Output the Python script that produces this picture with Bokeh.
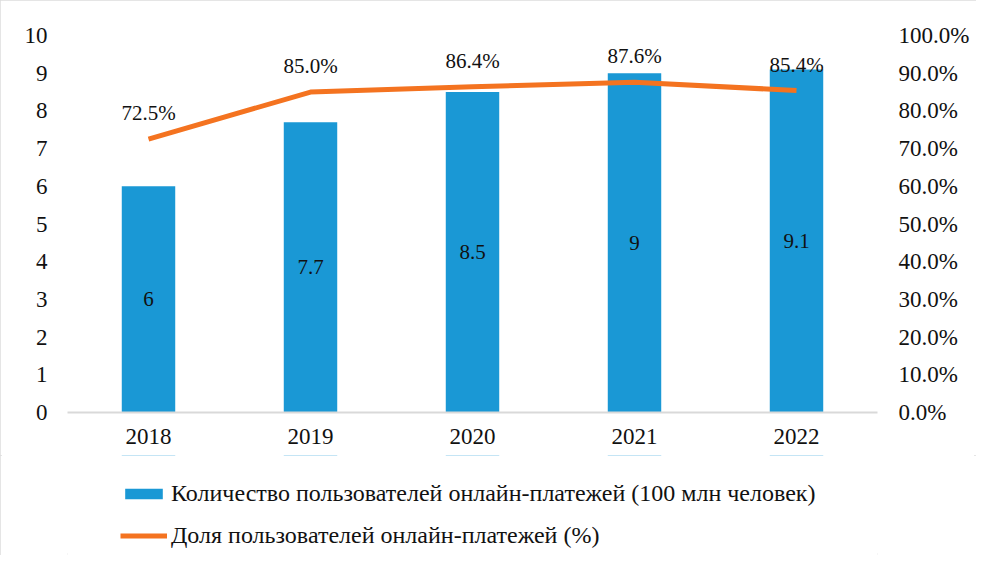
from bokeh.plotting import figure
from bokeh.layouts import column
from bokeh.models import (ColumnDataSource, FactorRange, Range1d, LinearAxis, FixedTicker,
                          NumeralTickFormatter, Legend, LegendItem)
from bokeh.core.properties import value
from bokeh.embed import file_html
from bokeh.resources import INLINE

# ---- data ----
years = ["2018", "2019", "2020", "2021", "2022"]
users = [6, 7.7, 8.5, 9, 9.1]                 # 100 million people
share_pct = [72.5, 85.0, 86.4, 87.6, 85.4]    # %
left_ticks = [0, 1, 2, 3, 4, 5, 6, 7, 8, 9, 10]
right_ticks = [0.0, 0.1, 0.2, 0.3, 0.4, 0.5, 0.6, 0.7, 0.8, 0.9, 1.0]
bar_name = "Количество пользователей онлайн-платежей (100 млн человек)"
line_name = "Доля пользователей онлайн-платежей (%)"

FONT = "Liberation Serif"
BAR_COLOR = "#1a98d5"
LINE_COLOR = "#f47320"
TXT = "#111111"

src = ColumnDataSource(dict(
    year=years,
    users=users,
    users_mid=[u / 2 for u in users],
    users_lbl=[f"{u:g}" for u in users],
    share=[s / 100 for s in share_pct],
    share_lbl=[f"{s:.1f}%" for s in share_pct],
))

p = figure(x_range=FactorRange(*years), y_range=Range1d(0, 10),
           width=976, height=455, output_backend="svg", toolbar_location=None,
           min_border_left=67, min_border_right=99, min_border_top=35, min_border_bottom=43)
p.extra_y_ranges = {"pct": Range1d(0, 1)}
p.x_range.range_padding = 0
p.outline_line_color = None
p.grid.grid_line_color = None
p.background_fill_color = "white"
p.border_fill_color = "white"

bars = p.vbar(x="year", top="users", width=0.33, source=src,
              fill_color=BAR_COLOR, line_color=None)
line = p.line(x="year", y="share", source=src, y_range_name="pct",
              line_color=LINE_COLOR, line_width=5)

p.text(x="year", y="users_mid", text="users_lbl", source=src,
       text_align="center", text_baseline="middle", text_font=value(FONT),
       text_font_size="21px", text_color=TXT)
p.text(x="year", y="share", text="share_lbl", source=src, y_range_name="pct",
       text_align="center", text_baseline="middle", y_offset=-26,
       text_font=value(FONT), text_font_size="21px", text_color=TXT)

# x axis
xa = p.xaxis[0]
xa.axis_line_color = "#d9d9d9"
xa.axis_line_width = 2
xa.major_tick_line_color = None
xa.minor_tick_line_color = None
xa.major_tick_out = 0
xa.major_label_standoff = 16
xa.major_label_text_font = FONT
xa.major_label_text_font_size = "23px"
xa.major_label_text_color = TXT

# left axis
ya = p.yaxis[0]
ya.ticker = FixedTicker(ticks=left_ticks)
ya.axis_line_color = None
ya.major_tick_line_color = None
ya.minor_tick_line_color = None
ya.major_tick_out = 0
ya.major_label_standoff = 20
ya.major_label_text_font = FONT
ya.major_label_text_font_size = "23px"
ya.major_label_text_color = TXT

# right axis
ra = LinearAxis(y_range_name="pct", ticker=FixedTicker(ticks=right_ticks),
                formatter=NumeralTickFormatter(format="0.0%"))
ra.axis_line_color = None
ra.major_tick_line_color = None
ra.minor_tick_line_color = None
ra.major_tick_out = 0
ra.major_label_standoff = 21
ra.major_label_text_font = FONT
ra.major_label_text_font_size = "23px"
ra.major_label_text_color = TXT
p.add_layout(ra, "right")

# ---- legend strip below the chart (same series, drawn out of view; only the key shows) ----
lg = figure(x_range=FactorRange(*years), y_range=Range1d(-2, -1),
            width=976, height=100, output_backend="svg", toolbar_location=None,
            x_axis_type=None, y_axis_type=None, min_border=0,
            min_border_left=0, min_border_right=0, min_border_top=0, min_border_bottom=0)
lg.outline_line_color = None
lg.background_fill_color = "white"
lg.border_fill_color = "white"
key_bar = lg.vbar(x="year", top="users", width=0.33, source=src,
                  fill_color=BAR_COLOR, line_color=None)
key_line = lg.line(x="year", y="share", source=src,
                   line_color=LINE_COLOR, line_width=5)

legend = Legend(items=[LegendItem(label=bar_name, renderers=[key_bar]),
                       LegendItem(label=line_name, renderers=[key_line])],
                location=(53, 6), orientation="vertical",
                glyph_width=47, glyph_height=13, label_height=13, spacing=15,
                label_standoff=4, padding=0, margin=0,
                border_line_color=None, background_fill_alpha=0,
                label_text_font=FONT, label_text_font_size="24px",
                label_text_color=TXT)
lg.add_layout(legend, "center")

layout = column(p, lg, spacing=0,
                styles={"outline": "2px solid #dcdcdc", "outline-offset": "-2px"})

open("out.html", "w").write(file_html(layout, INLINE))
